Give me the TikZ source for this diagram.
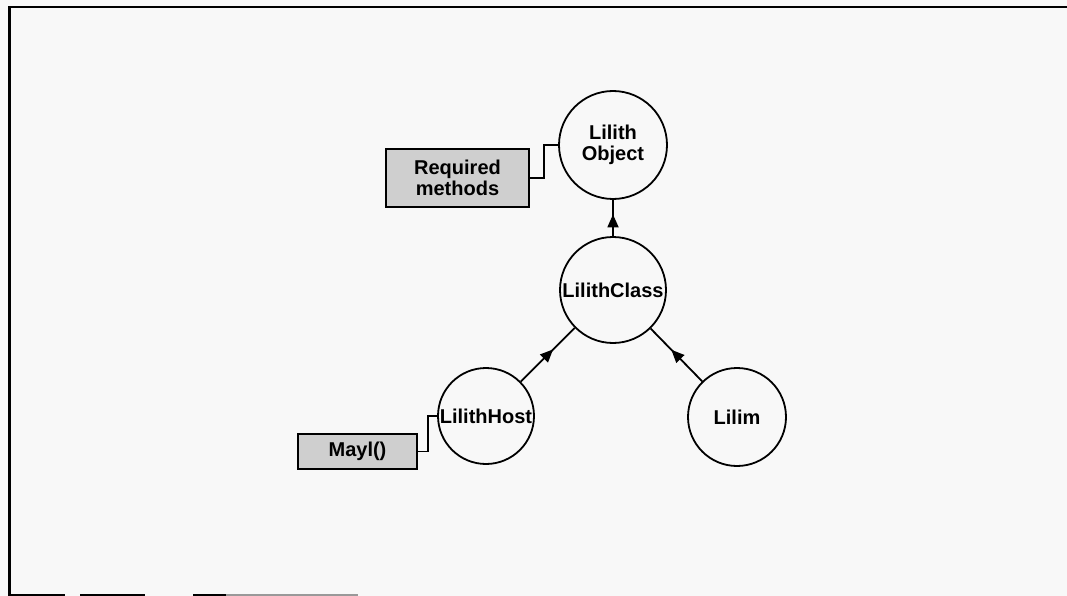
\documentclass[tikz,border=0pt]{standalone}
\usepackage{fontspec}
\setmainfont{Liberation Sans}
\usetikzlibrary{arrows.meta,decorations.markings}
\definecolor{bg}{HTML}{F8F8F8}
\definecolor{notefill}{HTML}{CFCFCF}
\begin{document}
\begin{tikzpicture}[x=1pt,y=-1pt,
  txt/.style={font=\bfseries\fontsize{20}{21}\selectfont},
  cls/.style={circle,draw,line width=1.8pt,inner sep=0pt,txt,align=center},
  note/.style={rectangle,draw,line width=1.8pt,fill=notefill,inner sep=0pt,txt,align=center},
  link/.style={line width=1.8pt},
  inh/.style={line width=1.8pt,postaction={decorate},
    decoration={markings,mark=at position 0.6 with {\arrow{Triangle[length=13pt,width=11pt]}}}},
  frameline/.style={line width=2pt}
]
\fill[bg] (0,0) rectangle (1067,596);
\useasboundingbox (0,0) rectangle (1067,596);
% frame
\draw[line width=3pt] (9.5,7) -- (9.5,596);
\draw[frameline] (8,7) -- (1067,7);
\draw[line width=2pt] (10,595) -- (65,595);
\draw[line width=2pt] (80,595) -- (145,595);
\draw[line width=2pt] (193,595) -- (226,595);
\draw[line width=2pt,black!40] (226,595) -- (358,595);
% classes
\node[cls,minimum size=108pt] (obj) at (613,145) {Lilith\\Object};
\node[cls,minimum size=106pt] (cls) at (613,290) {LilithClass};
\node[cls,minimum size=96pt] (host) at (486,416) {LilithHost};
\node[cls,minimum size=98pt] (lilim) at (737,417) {Lilim};
% notes
\node[note,minimum width=143pt,minimum height=58pt] (req) at (457.5,178) {Required\\methods};
\node[note,minimum width=119pt,minimum height=35pt] (mayl) at (357.5,451.5) {Mayl()};
% connectors
\draw[link] (req.east) -- ++(14,0) |- (obj.west);
\draw[link] (mayl.east) -- ++(10,0) |- (host.west);
\draw[inh] (cls) -- (obj);
\draw[inh] (host) -- (cls);
\draw[inh] (lilim) -- (cls);
\end{tikzpicture}
\end{document}
